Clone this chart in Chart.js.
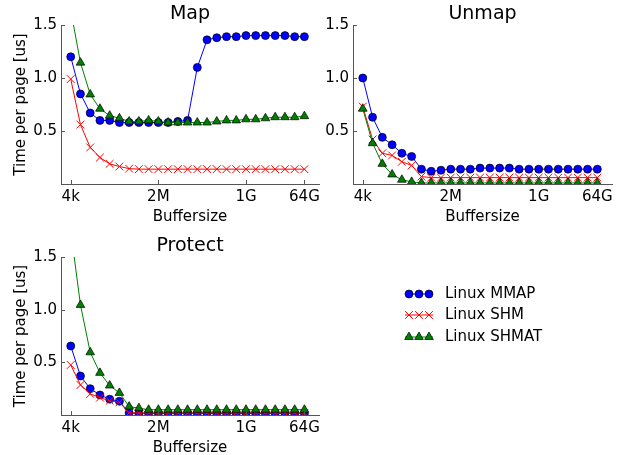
<!DOCTYPE html>
<html>
<head>
<meta charset="utf-8">
<script src="https://cdn.jsdelivr.net/npm/chart.js@4/dist/chart.umd.min.js"></script>
<style>
body { margin: 0; width: 624px; height: 455px; overflow: hidden; background: #fff; position: relative; }
canvas { position: absolute; }
</style>
</head>
<body>
<canvas id="mapChart" width="330" height="230" style="left:0px;top:0px"></canvas>
<canvas id="unmapChart" width="311" height="230" style="left:313px;top:0px"></canvas>
<canvas id="protectChart" width="624" height="229" style="left:0px;top:232px"></canvas>
<script>
// buffer size as power of two (4k = 2^12 ... 64G = 2^36)
let sizeExp = [12, 13, 14, 15, 16, 17, 18, 19, 20, 21, 22, 23, 24, 25, 26, 27, 28, 29, 30, 31, 32, 33, 34, 35, 36];
let tickExp    = [12, 21, 30, 36];
let tickLabels = ['4k', '2M', '1G', '64G'];
let yTicks = [0.5, 1.0, 1.5];

// Map
let mapMMAP  = [1.20, 0.85, 0.67, 0.60, 0.60, 0.58, 0.58, 0.58, 0.58, 0.58, 0.58, 0.59, 0.60, 1.10, 1.36, 1.38, 1.39, 1.39, 1.40, 1.40, 1.40, 1.40, 1.40, 1.39, 1.39];
let mapSHM   = [0.99, 0.56, 0.345, 0.25, 0.19, 0.165, 0.145, 0.14, 0.14, 0.14, 0.14, 0.14, 0.14, 0.14, 0.14, 0.14, 0.14, 0.14, 0.14, 0.14, 0.14, 0.14, 0.14, 0.14, 0.14];
let mapSHMAT = [1.64, 1.145, 0.845, 0.71, 0.645, 0.62, 0.59, 0.59, 0.60, 0.59, 0.58, 0.58, 0.58, 0.58, 0.58, 0.59, 0.60, 0.60, 0.61, 0.61, 0.62, 0.63, 0.63, 0.63, 0.64];
// Unmap
let unmapMMAP  = [1.00, 0.63, 0.44, 0.37, 0.29, 0.26, 0.14, 0.12, 0.13, 0.14, 0.14, 0.14, 0.15, 0.15, 0.15, 0.15, 0.14, 0.14, 0.14, 0.14, 0.14, 0.14, 0.14, 0.14, 0.14];
let unmapSHM   = [0.73, 0.42, 0.29, 0.27, 0.21, 0.175, 0.07, 0.06, 0.06, 0.06, 0.06, 0.06, 0.06, 0.06, 0.06, 0.06, 0.06, 0.06, 0.06, 0.06, 0.06, 0.06, 0.06, 0.06, 0.06];
let unmapSHMAT = [0.71, 0.385, 0.19, 0.09, 0.04, 0.02, 0.01, 0.01, 0.01, 0.01, 0.01, 0.01, 0.01, 0.01, 0.01, 0.01, 0.01, 0.01, 0.01, 0.01, 0.01, 0.01, 0.01, 0.01, 0.01];
// Protect
let protectMMAP  = [0.655, 0.37, 0.25, 0.19, 0.15, 0.13, 0.02, 0.015, 0.015, 0.015, 0.015, 0.015, 0.015, 0.015, 0.015, 0.015, 0.015, 0.015, 0.015, 0.015, 0.015, 0.015, 0.015, 0.015, 0.015];
let protectSHM   = [0.475, 0.285, 0.20, 0.165, 0.135, 0.12, 0.02, 0.02, 0.02, 0.02, 0.02, 0.02, 0.02, 0.02, 0.02, 0.02, 0.02, 0.02, 0.02, 0.02, 0.02, 0.02, 0.02, 0.02, 0.02];
let protectSHMAT = [1.75, 1.045, 0.595, 0.40, 0.28, 0.21, 0.08, 0.065, 0.05, 0.05, 0.05, 0.05, 0.05, 0.05, 0.05, 0.05, 0.05, 0.05, 0.05, 0.05, 0.05, 0.05, 0.05, 0.05, 0.05];

let axisColor = '#555555';
Chart.defaults.font.family = 'DejaVu Sans';
Chart.defaults.color = '#000';

function toPoints(vals){
    return vals.map((v, i) => ({x: sizeExp[i], y: v}));
}

function makeSets(mmap, shm, shmat){
    return [
        {label: 'Linux MMAP', data: toPoints(mmap), borderColor: '#0000ff', borderWidth: 1,
         pointStyle: 'circle', pointRadius: 4, pointBackgroundColor: '#0000ff', pointBorderColor: '#000', pointBorderWidth: 0.7, order: 2},
        {label: 'Linux SHM', data: toPoints(shm), borderColor: '#ff0000', borderWidth: 1,
         pointStyle: 'crossRot', pointRadius: 5.5, pointBackgroundColor: '#ff0000', pointBorderColor: '#ff0000', pointBorderWidth: 1, order: 1},
        {label: 'Linux SHMAT', data: toPoints(shmat), borderColor: '#008000', borderWidth: 1,
         pointStyle: 'triangle', pointRadius: 5, pointBackgroundColor: '#008000', pointBorderColor: '#000', pointBorderWidth: 0.7, order: 0}
    ];
}

// matplotlib style ticks pointing into the plot
const inwardTicks = {
    id: 'inwardTicks',
    afterDatasetsDraw(chart){
        const {ctx, chartArea: a, scales: {x, y}} = chart;
        ctx.save();
        ctx.strokeStyle = axisColor;
        ctx.lineWidth = 1;
        ctx.beginPath();
        x.ticks.forEach(t => {
            let px = Math.round(x.getPixelForValue(t.value)) + 0.5;
            ctx.moveTo(px, a.bottom); ctx.lineTo(px, a.bottom - 4);
        });
        y.ticks.forEach(t => {
            let py = Math.round(y.getPixelForValue(t.value)) + 0.5;
            ctx.moveTo(a.left, py); ctx.lineTo(a.left + 4, py);
        });
        ctx.stroke();
        ctx.restore();
    }
};

// legend in the empty fourth slot
const sideLegend = {
    id: 'sideLegend',
    afterDraw(chart){
        const ctx = chart.ctx;
        let rows = [62, 83, 105];
        chart.data.datasets.forEach((ds, i) => {
            let yy = rows[i];
            ctx.save();
            ctx.strokeStyle = ds.borderColor;
            ctx.lineWidth = 1;
            ctx.beginPath(); ctx.moveTo(405, yy); ctx.lineTo(433, yy); ctx.stroke();
            [409, 419, 429].forEach(xx => {
                ctx.fillStyle = ds.pointBackgroundColor;
                ctx.strokeStyle = ds.pointBorderColor;
                ctx.lineWidth = ds.pointBorderWidth;
                Chart.helpers.drawPoint(ctx, {pointStyle: ds.pointStyle, radius: ds.pointRadius, rotation: 0, borderWidth: ds.pointBorderWidth}, xx, yy);
            });
            ctx.fillStyle = '#000';
            ctx.font = '15px "DejaVu Sans"';
            ctx.textBaseline = 'middle';
            ctx.textAlign = 'left';
            ctx.fillText(ds.label, 445, yy);
            ctx.restore();
        });
    }
};

function panelOptions(title, yTitle, yWidth, padRight){
    return {
        responsive: false,
        animation: false,
        devicePixelRatio: 1,
        layout: { padding: { left: 0, right: padRight, top: 0, bottom: 0 } },
        plugins: {
            legend: { display: false },
            tooltip: { enabled: false },
            title: { display: true, text: title, fullSize: false, font: { size: 19, weight: 'normal', lineHeight: 1 }, padding: { top: 4.5, bottom: 1.5 }, color: '#000' }
        },
        scales: {
            x: {
                type: 'linear', min: 11, max: 37.5,
                afterBuildTicks: s => { s.ticks = tickExp.map(v => ({value: v})); },
                afterFit: s => { s.height = 46; },
                ticks: { callback: v => tickLabels[tickExp.indexOf(v)], font: { size: 15 }, padding: 4.5, maxRotation: 0, color: '#000' },
                grid: { display: false, drawTicks: false },
                border: { display: true, color: axisColor, width: 1 },
                title: { display: true, text: 'Buffersize', font: { size: 15 }, padding: { top: 0, bottom: 3.5 }, color: '#000' }
            },
            y: {
                type: 'linear', min: 0, max: 1.5,
                afterBuildTicks: s => { s.ticks = yTicks.map(v => ({value: v})); },
                afterFit: s => { s.width = yWidth; },
                ticks: { callback: v => v.toFixed(1), font: { size: 15 }, padding: 4, color: '#000' },
                grid: { display: false, drawTicks: false },
                border: { display: true, color: axisColor, width: 1 },
                title: { display: yTitle != '', text: yTitle, font: { size: 15 }, padding: { top: 12, bottom: 0 }, color: '#000' }
            }
        }
    };
}

new Chart(document.getElementById('mapChart'), {
    type: 'line',
    data: { datasets: makeSets(mapMMAP, mapSHM, mapSHMAT) },
    options: panelOptions('Map', 'Time per page [us]', 61, 11),
    plugins: [inwardTicks]
});

new Chart(document.getElementById('unmapChart'), {
    type: 'line',
    data: { datasets: makeSets(unmapMMAP, unmapSHM, unmapSHMAT) },
    options: panelOptions('Unmap', '', 40, 12),
    plugins: [inwardTicks]
});

new Chart(document.getElementById('protectChart'), {
    type: 'line',
    data: { datasets: makeSets(protectMMAP, protectSHM, protectSHMAT) },
    options: panelOptions('Protect', 'Time per page [us]', 61, 305),
    plugins: [inwardTicks, sideLegend]
});
</script>
</body>
</html>
